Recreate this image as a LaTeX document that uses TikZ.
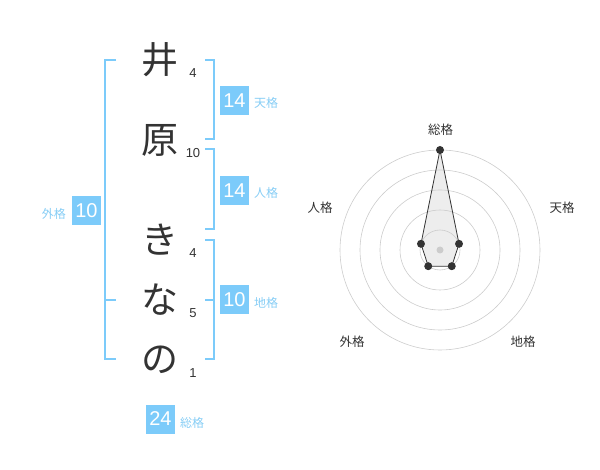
\documentclass[tikz,border=0pt]{standalone}
\usepackage{fontspec}
\usetikzlibrary{calc}
\setmainfont{Liberation Sans}
\newfontfamily\cjk{Noto Sans CJK JP}
\definecolor{boxblue}{HTML}{7CCBFA}
\definecolor{lblblue}{HTML}{86CDF5}
\definecolor{chargray}{HTML}{333333}
\definecolor{gridgray}{HTML}{CCCCCC}
\tikzset{
  ch/.style={font=\cjk\fontsize{37}{37}\selectfont, text=chargray, inner sep=0pt},
  num/.style={font=\fontsize{13}{13}\selectfont, text=chargray, inner sep=0pt},
  valbox/.style={fill=boxblue, text=white, minimum width=29pt, minimum height=29pt, inner sep=0pt, font=\fontsize{20}{20}\selectfont},
  lbl/.style={font=\cjk\fontsize{12}{12}\selectfont, text=lblblue, inner sep=0pt},
  brk/.style={draw=boxblue, line width=2pt},
  rlbl/.style={font=\cjk\fontsize{12.5}{12.5}\selectfont, text=chargray, inner sep=0pt},
  ring/.style={draw=gridgray, line width=0.6pt},
  dot/.style={circle, fill=chargray, inner sep=0pt, minimum size=8pt},
}
\begin{document}
\begin{tikzpicture}[x=1pt,y=-1pt]
\useasboundingbox (0,0) rectangle (600,470);
% characters
\node[ch] (c1) at (160,60) {井};
\node[ch] (c2) at (160,140) {原};
\node[ch] (c3) at (160,240) {き};
\node[ch] (c4) at (160,300) {な};
\node[ch] (c5) at (160,360) {の};
% stroke counts
\node[num] (n1) at (193,73) {4};
\node[num] (n2) at (193,153) {10};
\node[num] (n3) at (193,253) {4};
\node[num] (n4) at (193,313) {5};
\node[num] (n5) at (193,373) {1};
% left bracket (gaikaku)
\coordinate (lt) at (116,60);
\coordinate (lm) at (116,300);
\coordinate (lb) at (116,359);
\draw[brk] (lt) -- (105,60) -- (105,359) -- (lb);
\draw[brk] (105,300) -- (lm);
% right brackets
\draw[brk] (205,60) -- (214,60) -- (214,139) -- (205,139);
\draw[brk] (205,149) -- (214,149) -- (214,229) -- (205,229);
\draw[brk] (205,240) -- (214,240) -- (214,359) -- (205,359);
\draw[brk] (205,300) -- (214,300);
% value boxes
\node[valbox] (ten) at (234.5,100.5) {14};
\node[lbl, anchor=west] (tenl) at (254,103) {天格};
\node[valbox] (jin) at (234.5,190.5) {14};
\node[lbl, anchor=west] (jinl) at (254,193) {人格};
\node[valbox] (chi) at (234.5,300) {10};
\node[lbl, anchor=west] (chil) at (254,303) {地格};
\node[valbox] (gai) at (86.5,211) {10};
\node[lbl, anchor=east] (gail) at (66,214) {外格};
\node[valbox] (sou) at (160.5,419) {24};
\node[lbl, anchor=west] (soul) at (180,423) {総格};
% radar chart
\coordinate (O) at (440,250);
\coordinate (ps) at ($(O)+(0,-100)$);
\path (O) ++(-18:20) coordinate (pt);
\path (O) ++(54:20) coordinate (pc);
\path (O) ++(126:20) coordinate (pg);
\path (O) ++(198:20) coordinate (pj);
\fill[black!7] (ps) -- (pt) -- (pc) -- (pg) -- (pj) -- cycle;
\foreach \r in {20,40,60,80,100} \draw[ring] (O) circle (\r);
\node[circle, fill=gridgray, inner sep=0pt, minimum size=7pt] (ctr) at (O) {};
\draw[draw=chargray, line width=0.8pt] (ps) -- (pt) -- (pc) -- (pg) -- (pj) -- cycle;
\foreach \p in {ps,pt,pc,pg,pj} \node[dot] at (\p) {};
\node[rlbl] (rs) at (440.5,130) {総格};
\node[rlbl] (rt) at (562,208) {天格};
\node[rlbl] (rj) at (320,208) {人格};
\node[rlbl] (rg) at (352,342) {外格};
\node[rlbl] (rc) at (523,342) {地格};
\end{tikzpicture}
\end{document}
